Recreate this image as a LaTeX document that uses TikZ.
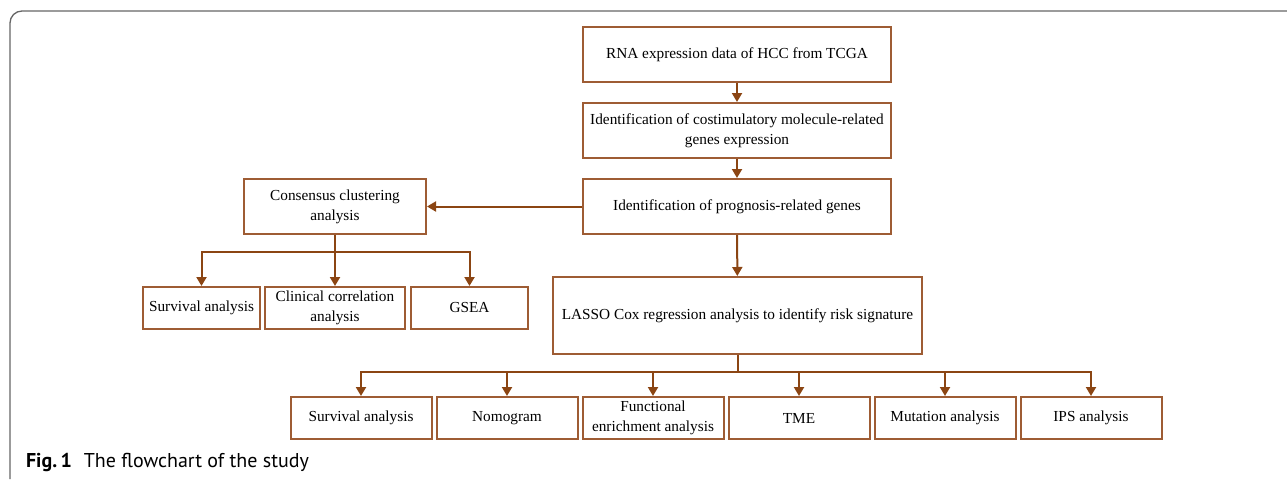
\documentclass[tikz,border=0pt]{standalone}
\usepackage{fontspec}
\setmainfont{Liberation Serif}
\newfontfamily\capfont{PT Sans}
\usetikzlibrary{arrows.meta}

\definecolor{boxbrown}{RGB}{158,92,52}
\definecolor{arrbrown}{RGB}{139,69,19}

\begin{document}
\begin{tikzpicture}[x=1pt,y=-1pt]
\tikzstyle{every node}=[draw=boxbrown, line width=2pt, align=center, inner sep=2pt,
  font=\fontsize{15.3}{20}\selectfont]
\tikzstyle{link}=[draw=arrbrown, line width=2pt]
\tikzstyle{arr}=[link, -{Triangle[length=9pt,width=10pt]}]
\useasboundingbox (0,0) rectangle (1287,479);
\draw[black!60, line width=1.3pt, rounded corners=12pt] (10,479) -- (10,11) -- (1287,11);
\node (rna) at (737,54.5) [minimum width=308pt, minimum height=55pt] {RNA expression data of HCC from TCGA};
\node (costim) at (737,130.5) [minimum width=308pt, minimum height=55pt] {Identification of costimulatory molecule-related\\genes expression};
\node (prog) at (737,206.5) [minimum width=308pt, minimum height=55pt] {Identification of prognosis-related genes};
\node (cons) at (335,206.5) [minimum width=182pt, minimum height=55pt] {Consensus clustering\\analysis};
\node (surv1) at (201.5,308) [minimum width=117pt, minimum height=42pt] {Survival analysis};
\node (clin) at (335,308) [minimum width=140pt, minimum height=42pt] {Clinical correlation\\analysis};
\node (gsea) at (469.5,308) [minimum width=117pt, minimum height=42pt] {GSEA};
\node (lasso) at (737.5,315.5) [minimum width=369pt, minimum height=77pt] {LASSO Cox regression analysis to identify risk signature};
\node (surv2) at (361,418) [minimum width=141pt, minimum height=42pt] {Survival analysis};
\node (nomo) at (507,418) [minimum width=141pt, minimum height=42pt] {Nomogram};
\node (func) at (653,418) [minimum width=141pt, minimum height=42pt] {Functional\\enrichment analysis};
\node (tme) at (799,418) [minimum width=141pt, minimum height=42pt] {TME};
\node (mut) at (945,418) [minimum width=141pt, minimum height=42pt] {Mutation analysis};
\node (ips) at (1091,418) [minimum width=141pt, minimum height=42pt] {IPS analysis};
\draw[arr] (rna) -- (costim);
\draw[arr] (costim) -- (prog);
\draw[arr] (prog) -- (cons);
\draw[arr] (prog) -- (lasso);
\foreach \n in {surv1,clin,gsea}
  \draw[arr] (cons.south) -- ++(0,17) -| (\n.north);
\foreach \n in {surv2,nomo,func,tme,mut,ips}
  \draw[arr] (lasso.south) -- ++(0,17) -| (\n.north);
\node (cap) at (25,467) [draw=none, anchor=base west, inner sep=0pt, font=\capfont\fontsize{20}{23}\selectfont]
  {\textbf{Fig.\,1}\hspace{0.6em}The flowchart of the study};
\end{tikzpicture}
\end{document}
